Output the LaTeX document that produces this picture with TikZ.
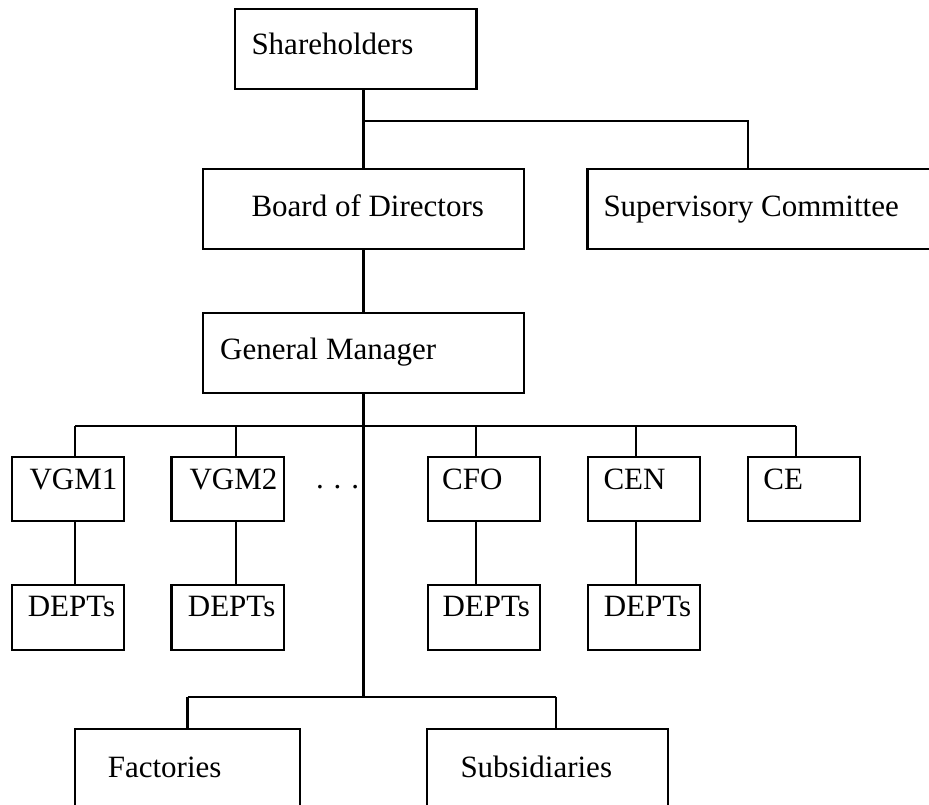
\documentclass[tikz,border=0pt]{standalone}
\usepackage{fontspec}
\setmainfont{Liberation Serif}
\begin{document}
\begin{tikzpicture}[x=1pt,y=-1pt,
  box/.style={draw, line width=2.2pt, rectangle, inner sep=0pt, outer sep=0pt, anchor=north west},
  lbl/.style={anchor=base west, inner sep=0pt, outer sep=0pt, font=\fontsize{31}{37}\selectfont},
  conn/.style={line width=2.1pt}]
\useasboundingbox (0,0) rectangle (929,805);
\clip (0,0) rectangle (929,805);

% boxes
\node[box, minimum width=241.5pt, minimum height=80.3pt] (sh) at (235,9) {};
\node[box, minimum width=321pt, minimum height=80pt] (bod) at (203,169) {};
\node[box, minimum width=360pt, minimum height=80pt] (sup) at (587.5,169) {};
\node[box, minimum width=321pt, minimum height=80.3pt] (gm) at (203,312.7) {};
\node[box, minimum width=112.5pt, minimum height=64.3pt] (vgm1) at (11.7,456.7) {};
\node[box, minimum width=112.5pt, minimum height=64.3pt] (vgm2) at (171.5,456.7) {};
\node[box, minimum width=112.5pt, minimum height=64.3pt] (cfo) at (427.7,456.7) {};
\node[box, minimum width=112.5pt, minimum height=64.3pt] (cen) at (587.7,456.7) {};
\node[box, minimum width=112.5pt, minimum height=64.3pt] (ce) at (747.6,456.7) {};
\node[box, minimum width=112.5pt, minimum height=65pt] (dep1) at (11.7,585) {};
\node[box, minimum width=112.5pt, minimum height=65pt] (dep2) at (171.5,585) {};
\node[box, minimum width=112.5pt, minimum height=65pt] (dep3) at (427.7,585) {};
\node[box, minimum width=112.5pt, minimum height=65pt] (dep4) at (587.7,585) {};
\node[box, minimum width=225pt, minimum height=110pt] (fac) at (75,729.3) {};
\node[box, minimum width=240.4pt, minimum height=110pt] (sub) at (427.3,729.3) {};

% texts
\node[lbl] (tsh) at ([xshift=16.5pt,yshift=-46pt]sh.north west) {Shareholders};
\node[lbl] (tbod) at ([xshift=48.5pt,yshift=-47.7pt]bod.north west) {Board of Directors};
\node[lbl] (tsup) at ([xshift=16pt,yshift=-47.7pt]sup.north west) {Supervisory Committee};
\node[lbl] (tgm) at ([xshift=17.2pt,yshift=-46.3pt]gm.north west) {General Manager};
\node[lbl] (tvgm1) at ([xshift=17.8pt,yshift=-32.6pt]vgm1.north west) {VGM1};
\node[lbl] (tvgm2) at ([xshift=18pt,yshift=-32.6pt]vgm2.north west) {VGM2};
\node[lbl] (tcfo) at ([xshift=14.5pt,yshift=-32.6pt]cfo.north west) {CFO};
\node[lbl] (tcen) at ([xshift=15.8pt,yshift=-32.6pt]cen.north west) {CEN};
\node[lbl] (tce) at ([xshift=15.8pt,yshift=-32.6pt]ce.north west) {CE};
\node[lbl] (tdep1) at ([xshift=16.1pt,yshift=-31.7pt]dep1.north west) {DEPTs};
\node[lbl] (tdep2) at ([xshift=16.4pt,yshift=-31.7pt]dep2.north west) {DEPTs};
\node[lbl] (tdep3) at ([xshift=14.8pt,yshift=-31.7pt]dep3.north west) {DEPTs};
\node[lbl] (tdep4) at ([xshift=16.1pt,yshift=-31.7pt]dep4.north west) {DEPTs};
\node[lbl] (tfac) at ([xshift=32.8pt,yshift=-47.7pt]fac.north west) {Factories};
\node[lbl] (tsub) at ([xshift=33.2pt,yshift=-47.7pt]sub.north west) {Subsidiaries};
\node[lbl] (dots) at (316,488.3) {.\hspace{10pt}.\hspace{10pt}.};

% connector points
\coordinate (bus1) at (363.5,121);
\coordinate (supin) at (747.7,169);
\coordinate (t1) at (75,425.7);
\coordinate (t2) at (235.7,425.7);
\coordinate (t3) at (475.7,425.7);
\coordinate (t4) at (635.7,425.7);
\coordinate (t5) at (795.6,425.7);
\coordinate (low) at (363.5,696.7);
\coordinate (subin) at (555.7,729.3);

% connectors
\draw[conn] (bus1 |- sh.south) -- (bod.north);
\draw[conn] (bus1) -| (supin);
\draw[conn] (bod.south) -- (gm.north);
\draw[conn] (gm.south) -- (low);
\draw[conn] (t1) -- (t5);
\draw[conn] (t1) -- (t1 |- vgm1.north);
\draw[conn] (t2) -- (t2 |- vgm2.north);
\draw[conn] (t3) -- (t3 |- cfo.north);
\draw[conn] (t4) -- (t4 |- cen.north);
\draw[conn] (t5) -- (t5 |- ce.north);
\draw[conn] (t1 |- vgm1.south) -- (t1 |- dep1.north);
\draw[conn] (t2 |- vgm2.south) -- (t2 |- dep2.north);
\draw[conn] (t3 |- cfo.south) -- (t3 |- dep3.north);
\draw[conn] (t4 |- cen.south) -- (t4 |- dep4.north);
\draw[conn] (low -| fac.north) -- (low -| subin);
\draw[conn] (low -| fac.north) -- (fac.north);
\draw[conn] (low -| subin) -- (subin);
\end{tikzpicture}
\end{document}
